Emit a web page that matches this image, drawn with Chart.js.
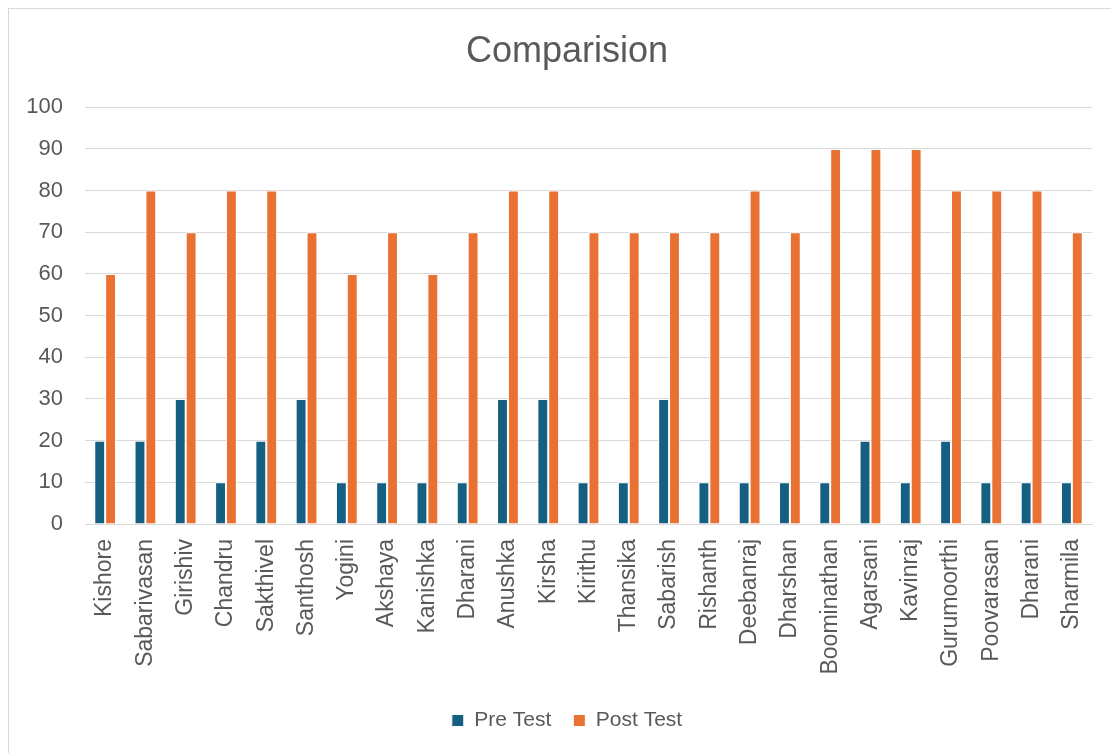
<!DOCTYPE html>
<html>
<head>
<meta charset="utf-8">
<script src="https://cdn.jsdelivr.net/npm/chart.js@4/dist/chart.umd.min.js"></script>
<style>
  html, body { margin: 0; padding: 0; background: #ffffff; overflow: hidden; }
  #wrap { position: relative; width: 1111px; height: 753px; overflow: hidden; }
  #frame { position: absolute; left: 8px; top: 8px; width: 1200px; height: 900px;
           border: 1px solid #d9d9d9; box-sizing: border-box; }
  #c { position: absolute; left: 0; top: 0; }
</style>
</head>
<body>
<div id="wrap">
  <div id="frame"></div>
  <canvas id="c" width="1134" height="753"></canvas>
</div>
<script>
// Student names
const students = ["Kishore", "Sabarivasan", "Girishiv", "Chandru", "Sakthivel", "Santhosh",
  "Yogini", "Akshaya", "Kanishka", "Dharani", "Anushka", "Kirsha", "Kirithu", "Thansika",
  "Sabarish", "Rishanth", "Deebanraj", "Dharshan", "Boominathan", "Agarsani", "Kavinraj",
  "Gurumoorthi", "Poovarasan", "Dharani", "Sharmila"];

// Scores before and after
const preTest = [20, 20, 30, 10, 20, 30, 10, 10, 10, 10, 30, 30, 10, 10, 30, 10, 10, 10, 10, 20, 10, 20, 10, 10, 10];
const postTest = [60, 80, 70, 80, 80, 70, 60, 70, 60, 70, 80, 80, 70, 70, 70, 70, 80, 70, 90, 90, 90, 80, 80, 80, 70];

// Value axis ticks
const yTicks = [0, 10, 20, 30, 40, 50, 60, 70, 80, 90, 100];

const FONT = "'Liberation Sans', Arial, sans-serif";
const TEXT = "#595959";
const GRID = "#d9d9d9";

new Chart(document.getElementById("c"), {
  type: "bar",
  data: {
    labels: students,
    datasets: [
      { label: "Pre Test", data: preTest, backgroundColor: "#156082",
        borderColor: "#ffffff", borderWidth: 1 },
      { label: "Post Test", data: postTest, backgroundColor: "#E97132",
        borderColor: "#ffffff", borderWidth: 1 }
    ]
  },
  options: {
    responsive: false,
    animation: false,
    events: [],
    datasets: { bar: { categoryPercentage: 0.54, barPercentage: 1 } },
    layout: { padding: { left: 0, right: 0, top: 0, bottom: 12 } },
    plugins: {
      title: {
        display: true,
        text: "Comparision",
        color: TEXT,
        font: { family: FONT, size: 36, weight: "normal" },
        padding: { top: 30, bottom: 34 }
      },
      legend: {
        position: "bottom",
        labels: {
          color: TEXT,
          font: { family: FONT, size: 21 },
          boxWidth: 12,
          boxHeight: 12,
          padding: 22
        }
      },
      tooltip: { enabled: false }
    },
    scales: {
      x: {
        grid: { display: false, drawTicks: false },
        border: { display: true, color: GRID, width: 1 },
        ticks: {
          color: TEXT,
          font: { family: FONT, size: 23 },
          minRotation: 90,
          maxRotation: 90,
          autoSkip: false,
          padding: 15
        },
        afterFit(s) {
          const lg = s.chart.legend ? s.chart.legend.height : 0;
          s.height = s.chart.height - 524 - lg - 12;
        }
      },
      y: {
        min: 0,
        max: 100,
        afterBuildTicks(s) { s.ticks = yTicks.map(v => ({ value: v })); },
        grid: { color: GRID, lineWidth: 1, drawTicks: false },
        border: { display: false },
        ticks: {
          color: TEXT,
          font: { family: FONT, size: 22 },
          padding: 22
        },
        afterFit(s) { s.width = 85; }
      },
      // empty right-hand margin axis, keeps the plot right edge in place
      yRight: {
        position: "right",
        min: 0,
        max: 100,
        grid: { display: false, drawTicks: false },
        border: { display: false },
        ticks: { display: false },
        afterFit(s) { s.width = 42; }
      }
    }
  }
});
</script>
</body>
</html>
